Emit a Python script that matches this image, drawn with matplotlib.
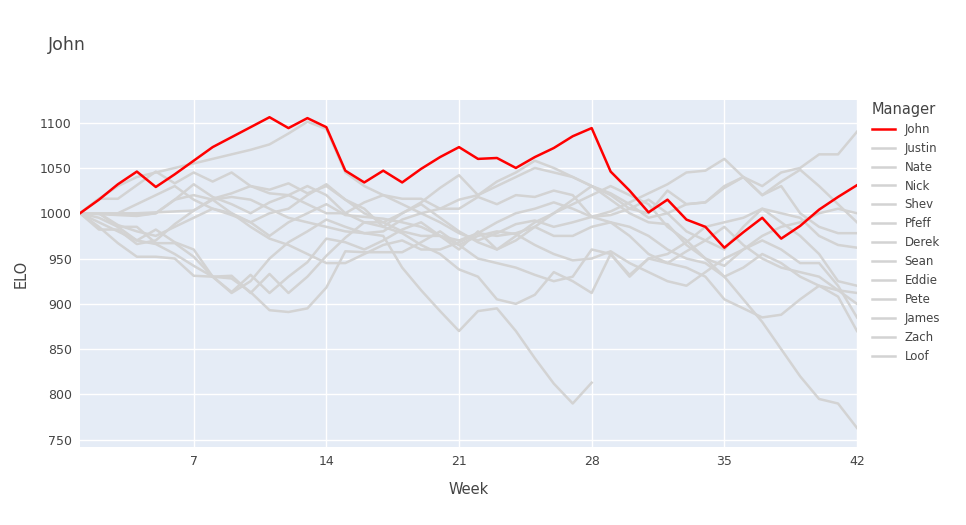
import numpy as np
import matplotlib.pyplot as plt

nan = np.nan
weeks = list(range(1, 43))
managers = ['John', 'Justin', 'Nate', 'Nick', 'Shev', 'Pfeff', 'Derek',
            'Sean', 'Eddie', 'Pete', 'James', 'Zach', 'Loof']

elo = {
    'John':   [1000, 1015, 1032, 1046, 1029, 1043, 1058, 1073, 1084, 1095, 1106, 1094, 1105, 1095,
               1047, 1034, 1047, 1034, 1049, 1062, 1073, 1060, 1061, 1050, 1062, 1072, 1085, 1094,
               1046, 1025, 1001, 1015, 993, 985, 962, 979, 995, 972, 986, 1004, 1018, 1031],
    'Justin': [1000, 1016, 1030, 1040, 1045, 1050, 1055, 1060, 1065, 1070, 1076, 1088, 1101, 1093,
               1045, 1030, 1020, 1010, 1000, 990, 978, 970, 978, 988, 992, 985, 990, 996,
               1002, 1012, 1022, 1032, 1045, 1047, 1060, 1040, 1030, 1045, 1050, 1065, 1065, 1090],
    'Nate':   [1000, 1016, 1016, 1031, 1046, 1033, 1045, 1035, 1045, 1030, 1022, 1020, 1030, 1020,
               1000, 990, 985, 1000, 1012, 1028, 1042, 1020, 1035, 1045, 1058, 1050, 1040, 1030,
               1020, 1005, 1000, 1025, 1010, 1012, 1030, 1040, 1020, 1035, 1048, 1030, 1010, 990],
    'Nick':   [1000, 1000, 999, 998, 1000, 1015, 1032, 1018, 1010, 1000, 1012, 1020, 1010, 1000,
               1000, 1012, 1020, 1016, 1016, 1005, 1005, 1018, 1010, 1020, 1018, 1025, 1020, 996,
               998, 1005, 1015, 1000, 1010, 1012, 1028, 1040, 1020, 1030, 1000, 985, 978, 978],
    'Shev':   [1000, 1000, 985, 985, 967, 967, 952, 930, 931, 912, 933, 912, 930, 953,
               973, 990, 990, 980, 975, 975, 960, 980, 960, 975, 990, 1000, 1015, 1030,
               1015, 1000, 990, 988, 965, 950, 942, 960, 970, 960, 945, 945, 920, 885],
    'Pfeff':  [1000, 990, 980, 970, 982, 968, 960, 930, 912, 925, 950, 968, 980, 993,
               985, 978, 980, 993, 1000, 1005, 1015, 1020, 1030, 1040, 1050, 1045, 1040, 1030,
               1022, 1010, 995, 1000, 980, 970, 960, 985, 1005, 990, 975, 955, 925, 920],
    'Derek':  [1000, 985, 967, 952, 952, 950, 931, 930, 913, 932, 912, 930, 946, 972,
               968, 960, 970, 982, 990, 975, 965, 950, 945, 940, 932, 925, 930, 960,
               955, 932, 950, 945, 958, 970, 985, 965, 950, 940, 935, 930, 915, 900],
    'Sean':   [1000, 982, 982, 966, 970, 988, 1003, 1016, 1022, 1030, 1026, 1033, 1022, 1030,
               1015, 1005, 985, 978, 965, 955, 938, 930, 905, 900, 910, 935, 925, 912,
               955, 930, 950, 955, 968, 985, 990, 995, 1005, 1000, 995, 975, 965, 962],
    'Eddie':  [1000, 995, 985, 970, 966, 955, 942, 930, 928, 913, 893, 891, 895, 918,
               958, 957, 957, 957, 968, 980, 965, 975, 980, 977, 965, 955, 948, 950,
               958, 945, 935, 925, 920, 935, 950, 960, 975, 985, 990, 1000, 1005, 1000],
    'Pete':   [1000, 1000, 987, 980, 975, 985, 995, 1005, 998, 990, 975, 990, 1000, 1010,
               998, 996, 994, 990, 985, 975, 970, 978, 990, 1000, 1005, 1012, 1005, 996,
               990, 985, 975, 960, 950, 945, 930, 940, 955, 945, 930, 920, 908, 870],
    'James':  [1000, 1000, 1000, 1010, 1020, 1030, 1015, 1005, 1000, 985, 972, 965, 955, 945,
               945, 955, 965, 970, 960, 960, 968, 978, 975, 978, 985, 975, 975, 985,
               990, 975, 955, 945, 940, 930, 905, 895, 885, 888, 905, 920, 915, 912],
    'Zach':   [1000, 1000, 1000, 1000, 1001, 1002, 1003, 1015, 1018, 1015, 1005, 995, 990, 985,
               980, 978, 975, 940, 915, 892, 870, 892, 895, 870, 840, 812, 790, 813,
               nan, nan, nan, nan, nan, nan, nan, nan, nan, nan, nan, nan, nan, nan],
    'Loof':   [1000, 999, 998, 997, 1000, 1015, 1020, 1015, 1000, 990, 1000, 1005, 1020, 1032,
               1015, 1000, 990, 1000, 1010, 995, 980, 968, 960, 970, 985, 1000, 1010, 1020,
               1030, 1020, 1010, 985, 970, 950, 930, 905, 880, 850, 820, 795, 790, 763],
}

fig = plt.figure(figsize=(9.66, 5.25), dpi=100)
ax = fig.add_axes([80/966, 1 - 447/525, 777/966, 347/525])
ax.set_facecolor('#E5ECF6')
for s in ax.spines.values():
    s.set_visible(False)

for m in managers[::-1]:
    if m == 'John':
        continue
    ax.plot(weeks, elo[m], color='#d3d3d3', lw=1.8, label=m)
ax.plot(weeks, elo['John'], color='red', lw=1.8, label='John', zorder=5)

ax.set_xlim(1, 42)
ax.set_ylim(742, 1125)
ax.set_xticks([7, 14, 21, 28, 35, 42])
ax.set_yticks(range(750, 1101, 50))
ax.grid(color='white', lw=1)
ax.set_axisbelow(True)
ax.tick_params(length=0, labelsize=9, colors='#444444', pad=6)
ax.set_xlabel('Week', color='#444444', fontsize=10.5, labelpad=10)
ax.set_ylabel('ELO', color='#444444', fontsize=10.5, labelpad=8)

h, l = ax.get_legend_handles_labels()
order = [l.index(m) for m in managers]
leg = ax.legend([h[i] for i in order], [l[i] for i in order], title='Manager',
                loc='upper left', bbox_to_anchor=(1.005, 1.025), frameon=False,
                fontsize=8.5, title_fontsize=10.5, labelspacing=0.5,
                handlelength=2.0, alignment='left')
for t in leg.get_texts():
    t.set_color('#444444')
leg.get_title().set_color('#444444')

fig.text(48/966, 1 - 45/525, 'John', fontsize=12.5, color='#444444', va='center')
fig.savefig('out.png', dpi=100)
